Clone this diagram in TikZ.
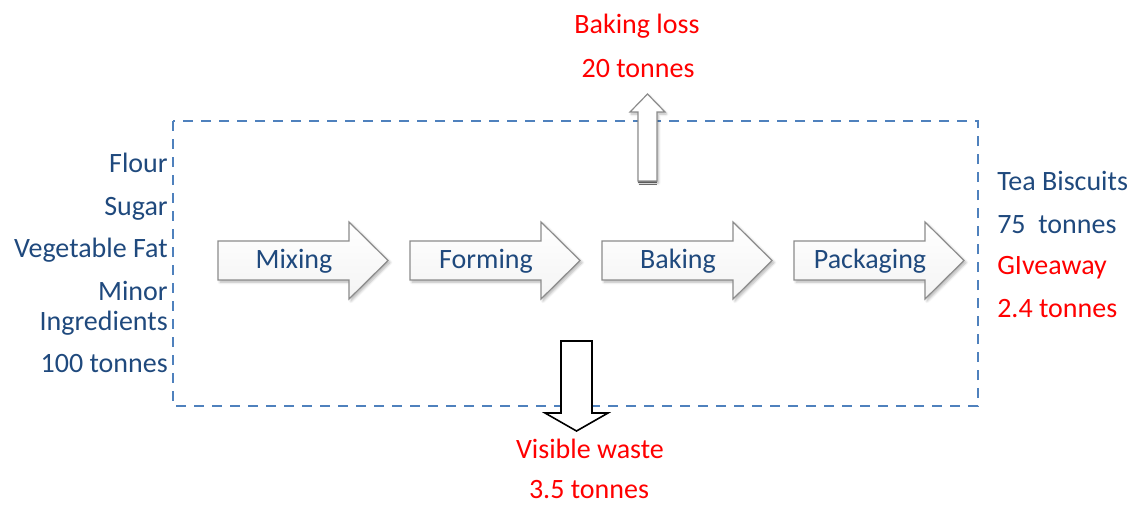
\documentclass[tikz,border=0pt]{standalone}
\usepackage{fontspec}
\setmainfont{Carlito}
\usetikzlibrary{shadows.blur}
\definecolor{txtblue}{RGB}{31,73,125}
\definecolor{lossred}{RGB}{255,0,0}
\definecolor{boundblue}{RGB}{79,129,189}
\definecolor{arrowedge}{RGB}{140,140,140}
\begin{document}
\begin{tikzpicture}[x=0.75pt,y=-0.75pt,
  every node/.style={inner sep=0pt,font=\fontsize{21pt}{25pt}\selectfont},
  bluetext/.style={text=txtblue},
  redtext/.style={text=lossred},
  boundary/.style={draw=boundblue,line width=2.2pt,dash pattern=on 7.5pt off 6pt},
  procarrow/.style={draw=arrowedge,line width=0.9pt,top color=white,bottom color=gray!9,
    blur shadow={shadow xshift=1.5pt,shadow yshift=-1.5pt,shadow blur steps=6,shadow opacity=30}},
  lossarrow/.style={draw=arrowedge,line width=0.9pt,fill=white,
    blur shadow={shadow xshift=1pt,shadow yshift=-1.5pt,shadow blur steps=5,shadow opacity=30}},
  wastearrow/.style={draw=black,line width=1.2pt,fill=white},
  proclabel/.style={bluetext,anchor=base}
]
\useasboundingbox (0,0) rectangle (1134,504);

% system boundary
\draw[boundary] (173,121) rectangle (978,406);

% process steps: shaft 131 long, head 39 long
\newcommand\procstep[3]{%
  \path[procarrow] (#1,241) -- (#1+131,241) -- (#1+131,222) -- (#1+170,260.5)
    -- (#1+131,299) -- (#1+131,280) -- (#1,280) -- cycle;
  \node[proclabel] (#2) at (#1+76,268) {#3};}
\procstep{218}{mix}{Mixing}
\procstep{410}{form}{Forming}
\procstep{602}{bake}{Baking}
\procstep{794}{pack}{Packaging}

% baking loss leaving upwards
\draw[arrowedge!80!black,line width=1pt] (638,182) -- (657,182);
\draw[arrowedge!80!black,line width=1pt] (638.5,184.5) -- (656.5,184.5);
\path[lossarrow] (638,181) -- (638,112) -- (630,112) -- (647.5,94) -- (665,112)
  -- (657,112) -- (657,181) -- cycle;

% visible waste leaving downwards
\path[wastearrow] (561,341) -- (592,341) -- (592,413) -- (608,413) -- (576.5,431)
  -- (545,413) -- (561,413) -- cycle;

% inputs
\node[bluetext,anchor=base east] (flour) at (168,172) {Flour};
\node[bluetext,anchor=base east] (sugar) at (168,215) {Sugar};
\node[bluetext,anchor=base east] (fat) at (168,257) {Vegetable Fat};
\node[bluetext,anchor=base east] (minor) at (168,300) {Minor};
\node[bluetext,anchor=base east] (ingr) at (168,330) {Ingredients};
\node[bluetext,anchor=base east] (intotal) at (168,372) {100 tonnes};

% outputs
\node[bluetext,anchor=base west] (tea) at (997,190) {Tea Biscuits};
\node[bluetext,anchor=base west] (teamass) at (997,233) {75\ \ tonnes};
\node[redtext,anchor=base west] (give) at (997,274) {GIveaway};
\node[redtext,anchor=base west] (givemass) at (997,317) {2.4 tonnes};

% losses
\node[redtext,anchor=base] (loss) at (637,33) {Baking loss};
\node[redtext,anchor=base] (lossmass) at (638,77) {20 tonnes};
\node[redtext,anchor=base] (waste) at (590,458) {Visible waste};
\node[redtext,anchor=base] (wastemass) at (589,498) {3.5 tonnes};
\end{tikzpicture}
\end{document}
